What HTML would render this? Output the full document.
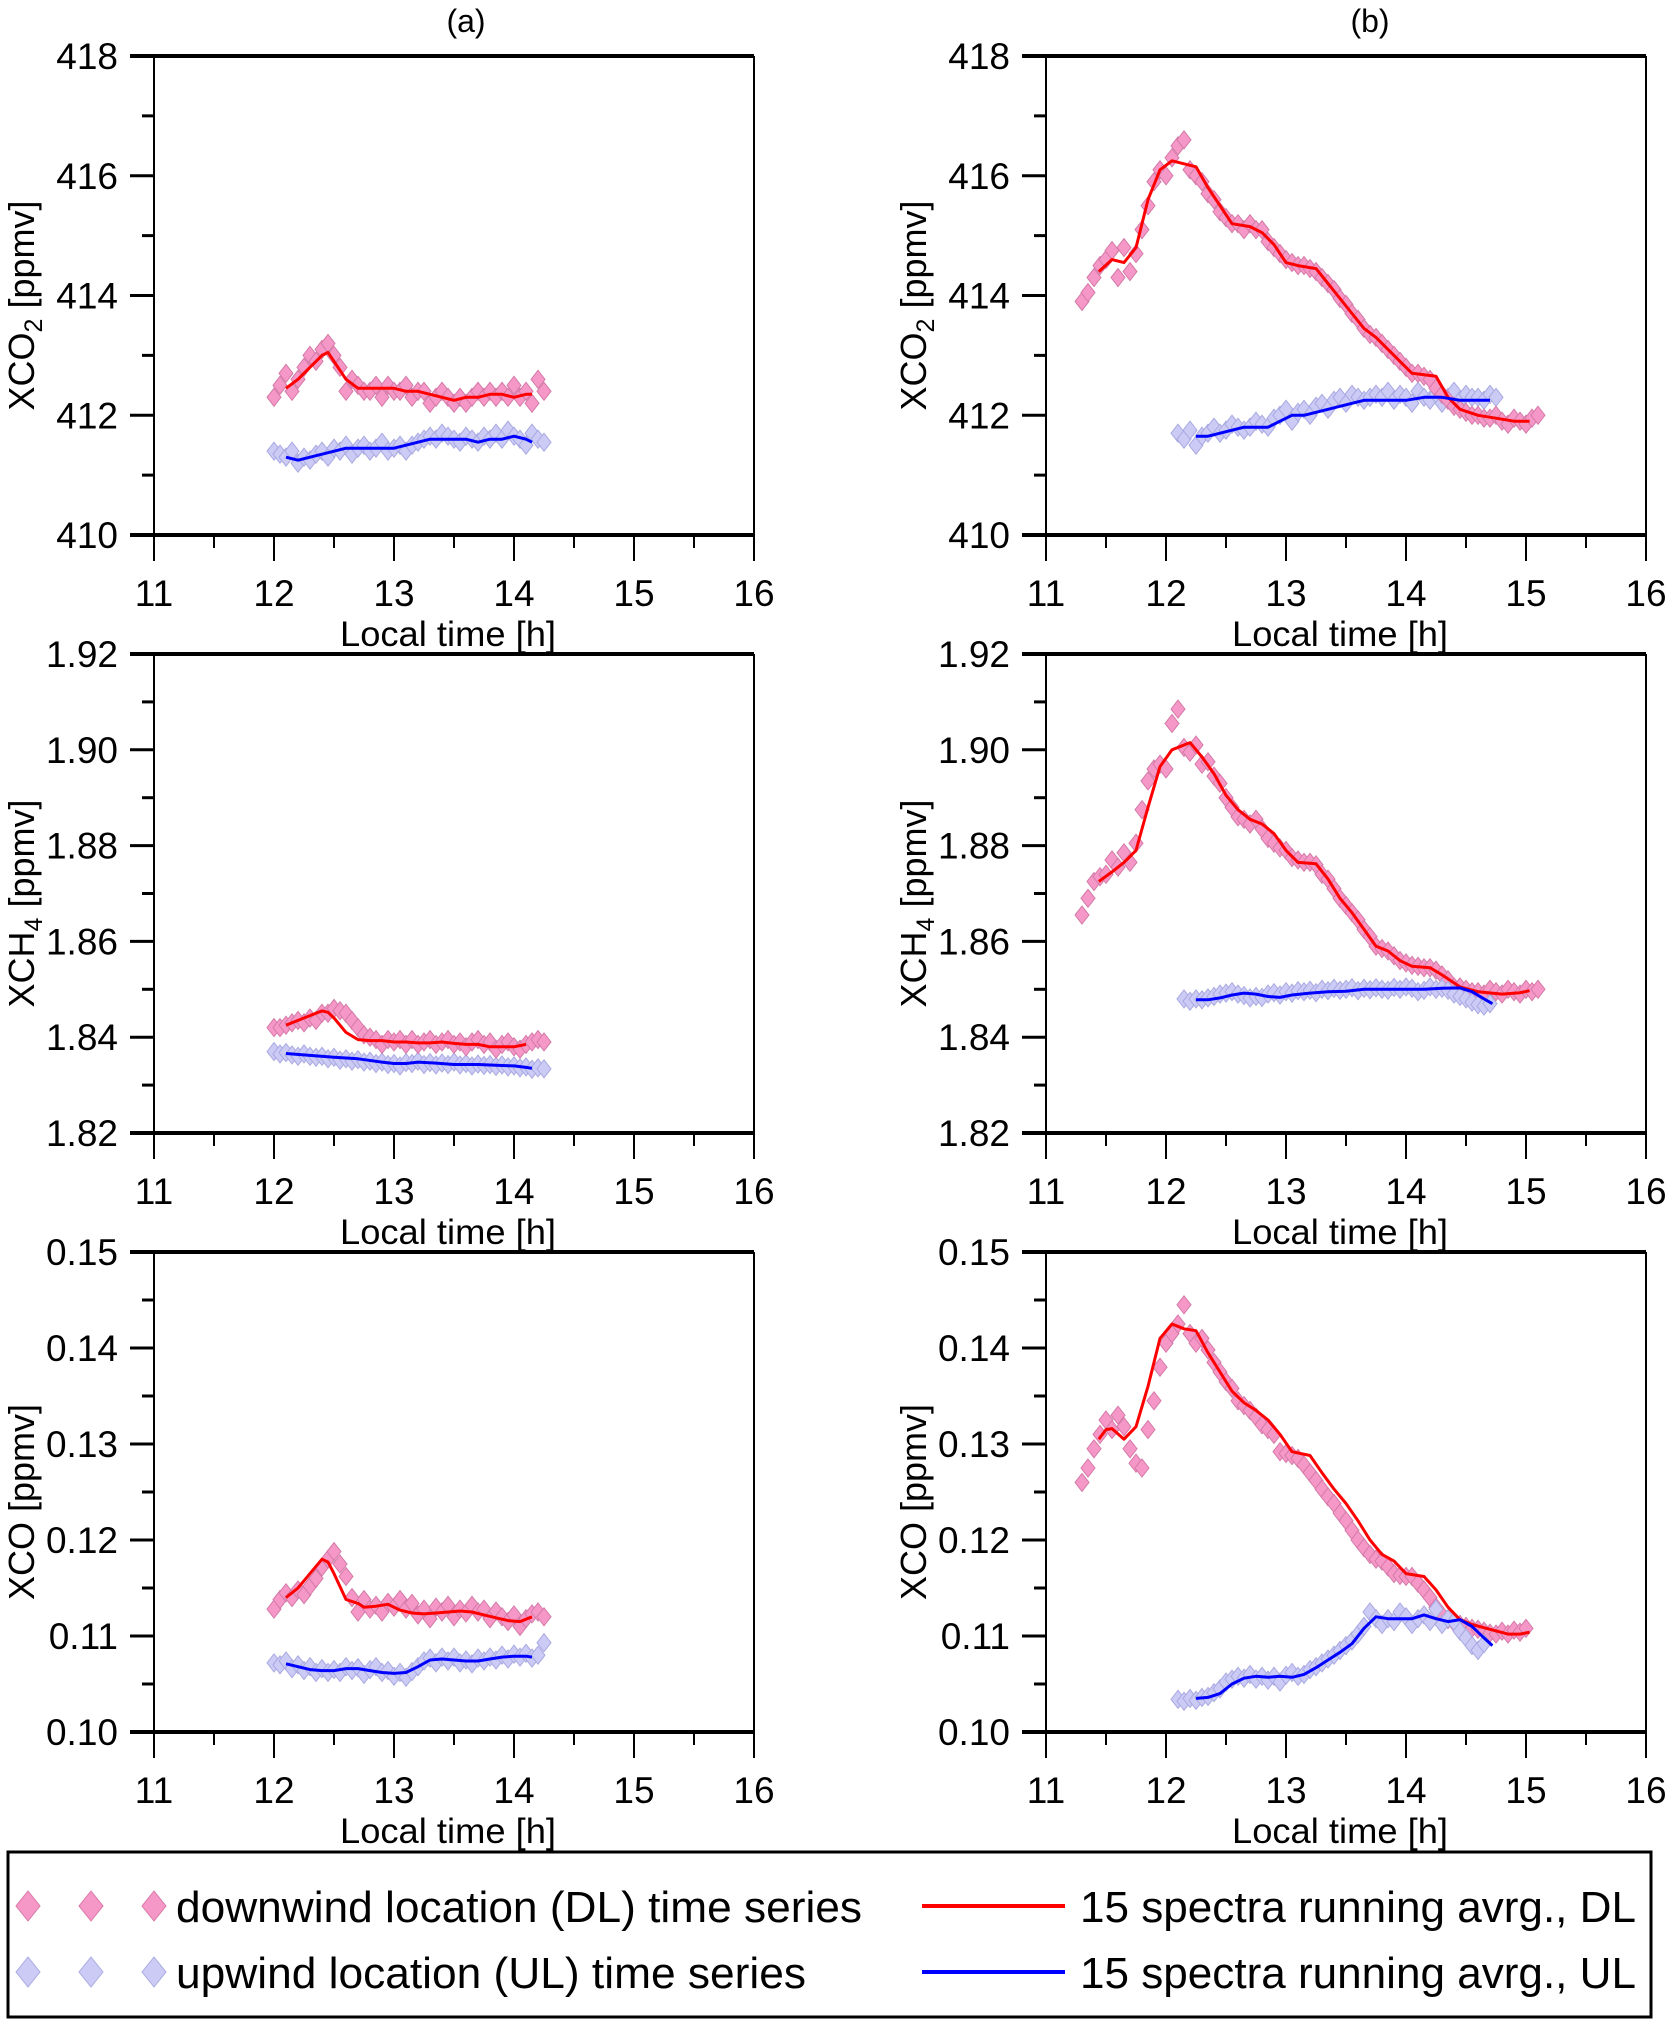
<!DOCTYPE html>
<html><head><meta charset="utf-8"><style>
body{margin:0;background:#fff}
svg{display:block;font-family:"Liberation Sans",Arial,sans-serif}
</style></head><body>
<svg id="fig" width="1666" height="2020" viewBox="0 0 1666 2020" xmlns="http://www.w3.org/2000/svg">
<text x="466" y="32" font-size="32" text-anchor="middle">(a)</text>
<text x="1370" y="32" font-size="32" text-anchor="middle">(b)</text>
<g id="plots"></g>
<g>
<rect x="8" y="1852" width="1643" height="165" fill="#fff" stroke="#000" stroke-width="3"/>
<g>
<polygon points="28,1891 40,1906 28,1921 16,1906" fill="#f598c8" stroke="#d878a8"/>
<polygon points="91,1891 103,1906 91,1921 79,1906" fill="#f598c8" stroke="#d878a8"/>
<polygon points="154,1891 166,1906 154,1921 142,1906" fill="#f598c8" stroke="#d878a8"/>
<text x="176" y="1922" font-size="44" textLength="686" lengthAdjust="spacingAndGlyphs">downwind location (DL) time series</text>
</g>
<g>
<polygon points="28,1957 40,1972 28,1987 16,1972" fill="#cbcbf5" stroke="#aaaae0"/>
<polygon points="91,1957 103,1972 91,1987 79,1972" fill="#cbcbf5" stroke="#aaaae0"/>
<polygon points="154,1957 166,1972 154,1987 142,1972" fill="#cbcbf5" stroke="#aaaae0"/>
<text x="176" y="1988" font-size="44" textLength="630" lengthAdjust="spacingAndGlyphs">upwind location (UL) time series</text>
</g>
<g>
<line x1="922" y1="1906" x2="1065" y2="1906" stroke="#ff0000" stroke-width="4"/>
<text x="1080" y="1922" font-size="44" textLength="556" lengthAdjust="spacingAndGlyphs">15 spectra running avrg., DL</text>
</g>
<g>
<line x1="922" y1="1972" x2="1065" y2="1972" stroke="#0000ff" stroke-width="4"/>
<text x="1080" y="1988" font-size="44" textLength="556" lengthAdjust="spacingAndGlyphs">15 spectra running avrg., UL</text>
</g>
</g>
</svg>
<script>
// ---------- data ----------
const xTicks = [11,12,13,14,15,16];
const co2Ticks = [410,412,414,416,418];
const ch4Ticks = [1.82,1.84,1.86,1.88,1.90,1.92];
const coTicks = [0.10,0.11,0.12,0.13,0.14,0.15];
const co2TickLabels = ["410","412","414","416","418"];
const ch4TickLabels = ["1.82","1.84","1.86","1.88","1.90","1.92"];
const coTickLabels = ["0.10","0.11","0.12","0.13","0.14","0.15"];

// scatter: start time + 0.05 h spacing
const aCO2DLStart = 12.0;
const aCO2DL = [412.3,412.5,412.7,412.4,412.6,412.8,413.0,412.9,413.1,413.2,413.0,412.8,412.4,412.6,412.5,412.4,412.4,412.5,412.3,412.5,412.4,412.4,412.5,412.3,412.4,412.4,412.2,412.3,412.4,412.3,412.2,412.3,412.2,412.3,412.4,412.3,412.4,412.3,412.4,412.3,412.5,412.3,412.4,412.2,412.6,412.4];
const aCO2ULStart = 12.0;
const aCO2UL = [411.4,411.35,411.3,411.4,411.2,411.3,411.25,411.35,411.4,411.3,411.45,411.4,411.5,411.35,411.45,411.5,411.4,411.45,411.55,411.4,411.45,411.5,411.4,411.5,411.55,411.6,411.65,411.6,411.7,411.65,411.6,411.55,411.65,411.6,411.55,411.65,411.6,411.7,411.6,411.75,411.65,411.6,411.5,411.7,411.6,411.55];
const aCO2DLAvgT = [12.1,12.2,12.3,12.4,12.45,12.5,12.6,12.7,12.8,12.9,13.0,13.1,13.2,13.3,13.4,13.5,13.6,13.7,13.8,13.9,14.0,14.1,14.15];
const aCO2DLAvg = [412.45,412.6,412.8,413.0,413.05,412.9,412.6,412.45,412.45,412.45,412.45,412.4,412.4,412.35,412.3,412.25,412.3,412.3,412.35,412.35,412.3,412.35,412.35];
const aCO2ULAvgT = [12.1,12.2,12.3,12.4,12.5,12.6,12.7,12.8,12.9,13.0,13.1,13.2,13.3,13.4,13.5,13.6,13.7,13.8,13.9,14.0,14.1,14.15];
const aCO2ULAvg = [411.3,411.25,411.3,411.35,411.4,411.45,411.45,411.45,411.45,411.45,411.5,411.55,411.6,411.6,411.6,411.6,411.55,411.6,411.6,411.65,411.6,411.55];

const bCO2DLStart = 11.3;
const bCO2DL = [413.9,414.05,414.3,414.5,414.6,414.75,414.3,414.8,414.4,414.7,415.1,415.5,415.9,416.1,416.0,416.3,416.5,416.6,416.1,416.0,415.9,415.7,415.6,415.4,415.3,415.2,415.2,415.1,415.2,415.1,415.1,414.9,414.8,414.7,414.6,414.55,414.5,414.5,414.45,414.4,414.3,414.2,414.1,413.95,413.85,413.7,413.6,413.45,413.35,413.3,413.2,413.1,413.0,412.9,412.8,412.7,412.7,412.65,412.6,412.45,412.35,412.25,412.15,412.1,412.05,412.0,412.0,411.95,411.95,412.0,411.9,411.85,411.95,411.9,411.85,411.95,412.0];
const bCO2ULStart = 12.1;
const bCO2UL = [411.7,411.6,411.75,411.5,411.65,411.7,411.8,411.7,411.75,411.85,411.8,411.75,411.8,411.9,411.85,411.8,411.95,412.0,412.1,411.9,412.05,412.1,412.0,412.15,412.2,412.1,412.25,412.3,412.2,412.35,412.3,412.25,412.3,412.35,412.3,412.4,412.25,412.35,412.3,412.2,412.4,412.3,412.25,412.35,412.2,412.3,412.4,412.25,412.35,412.3,412.3,412.25,412.35,412.3];
const bCO2DLAvgT = [11.44,11.55,11.65,11.75,11.85,11.95,12.05,12.15,12.25,12.35,12.45,12.55,12.7,12.8,12.9,13.0,13.1,13.25,13.35,13.45,13.55,13.65,13.75,13.85,13.95,14.05,14.25,14.35,14.45,14.6,14.75,14.9,15.03];
const bCO2DLAvg = [414.4,414.6,414.55,414.8,415.6,416.1,416.25,416.2,416.15,415.8,415.5,415.2,415.15,415.05,414.85,414.55,414.5,414.45,414.2,413.95,413.7,413.45,413.3,413.1,412.9,412.7,412.65,412.3,412.1,412.0,411.95,411.9,411.9];
const bCO2ULAvgT = [12.25,12.35,12.45,12.55,12.65,12.75,12.85,12.95,13.05,13.15,13.25,13.35,13.45,13.55,13.65,13.75,13.85,14.0,14.15,14.3,14.45,14.6,14.7];
const bCO2ULAvg = [411.65,411.65,411.7,411.75,411.8,411.8,411.8,411.9,412.0,412.0,412.05,412.1,412.15,412.2,412.25,412.25,412.25,412.25,412.3,412.3,412.25,412.25,412.25];

const aCH4DLStart = 12.0;
const aCH4DL = [1.842,1.842,1.8425,1.843,1.8435,1.843,1.844,1.8435,1.845,1.845,1.846,1.8455,1.845,1.8435,1.842,1.8405,1.84,1.8395,1.8385,1.8395,1.839,1.8395,1.8385,1.8395,1.8385,1.839,1.8395,1.8385,1.839,1.8395,1.8385,1.839,1.838,1.839,1.8395,1.8385,1.839,1.8375,1.8385,1.839,1.838,1.8375,1.8385,1.839,1.8395,1.839];
const aCH4ULStart = 12.0;
const aCH4UL = [1.837,1.8365,1.8368,1.8363,1.836,1.8365,1.836,1.8358,1.836,1.8355,1.8358,1.8352,1.8355,1.835,1.8353,1.8348,1.835,1.8345,1.8348,1.8343,1.8345,1.834,1.8347,1.8345,1.835,1.8343,1.8347,1.8342,1.8346,1.8343,1.8348,1.8342,1.8345,1.834,1.8344,1.8341,1.8343,1.8339,1.8342,1.8338,1.834,1.8336,1.8338,1.8333,1.8336,1.8334];
const aCH4DLAvgT = [12.1,12.2,12.3,12.4,12.45,12.5,12.6,12.7,12.8,12.9,13.0,13.1,13.2,13.3,13.4,13.5,13.6,13.7,13.8,13.9,14.0,14.1];
const aCH4DLAvg = [1.8425,1.8435,1.8445,1.8455,1.8452,1.844,1.841,1.8395,1.8393,1.8393,1.839,1.839,1.8388,1.8388,1.839,1.8387,1.8385,1.8385,1.838,1.838,1.838,1.8385];
const aCH4ULAvgT = [12.1,12.3,12.5,12.7,12.9,13.0,13.1,13.2,13.35,13.5,13.7,13.9,14.0,14.1,14.15];
const aCH4ULAvg = [1.8366,1.8362,1.8358,1.8355,1.8348,1.8345,1.8345,1.8348,1.8346,1.8343,1.8343,1.8341,1.834,1.8337,1.8335];

const bCH4DLStart = 11.3;
const bCH4DL = [1.8655,1.869,1.8725,1.8735,1.874,1.877,1.8755,1.8785,1.8765,1.8805,1.8875,1.8935,1.896,1.897,1.896,1.9055,1.9085,1.9005,1.8995,1.901,1.897,1.8975,1.8945,1.893,1.89,1.888,1.886,1.8855,1.8845,1.8855,1.8835,1.8815,1.8805,1.8795,1.879,1.8775,1.877,1.8765,1.8765,1.876,1.874,1.873,1.871,1.869,1.8675,1.866,1.8645,1.8625,1.861,1.859,1.8585,1.858,1.857,1.856,1.8555,1.855,1.8548,1.8545,1.8545,1.854,1.853,1.852,1.8505,1.8505,1.85,1.8495,1.8495,1.849,1.85,1.8495,1.849,1.85,1.8495,1.849,1.85,1.8495,1.85];
const bCH4ULStart = 12.15;
const bCH4UL = [1.848,1.8475,1.848,1.8478,1.8482,1.8485,1.849,1.8492,1.8495,1.849,1.8487,1.8482,1.8485,1.8483,1.849,1.8493,1.8488,1.8495,1.8492,1.8497,1.8495,1.8498,1.8493,1.85,1.8497,1.8502,1.8498,1.85,1.8503,1.8497,1.8502,1.8499,1.8503,1.85,1.8498,1.8504,1.85,1.8505,1.8502,1.8495,1.8498,1.8505,1.85,1.8502,1.8498,1.849,1.8485,1.848,1.8473,1.8468,1.8465,1.847];
const bCH4DLAvgT = [11.44,11.55,11.65,11.75,11.85,11.95,12.05,12.15,12.2,12.3,12.4,12.5,12.6,12.7,12.8,12.9,13.0,13.1,13.25,13.35,13.45,13.55,13.65,13.75,13.85,13.95,14.05,14.2,14.3,14.45,14.6,14.8,14.95,15.03];
const bCH4DLAvg = [1.8725,1.8745,1.8765,1.879,1.888,1.8965,1.9,1.901,1.9015,1.8985,1.895,1.8905,1.8875,1.8855,1.8845,1.8825,1.879,1.8765,1.8762,1.873,1.869,1.866,1.8625,1.859,1.858,1.856,1.8548,1.8545,1.853,1.8505,1.8495,1.849,1.8493,1.8497];
const bCH4ULAvgT = [12.25,12.35,12.45,12.55,12.65,12.75,12.85,12.95,13.05,13.2,13.35,13.5,13.65,13.8,14.0,14.15,14.3,14.45,14.55,14.65,14.72];
const bCH4ULAvg = [1.8478,1.8478,1.8482,1.8488,1.8492,1.849,1.8485,1.8483,1.8488,1.8492,1.8495,1.8496,1.85,1.85,1.85,1.85,1.8502,1.8503,1.8495,1.848,1.847];

const aCODLStart = 12.0;
const aCODL = [0.1128,0.1138,0.1145,0.114,0.1148,0.1143,0.1152,0.116,0.1172,0.118,0.1188,0.1175,0.1162,0.114,0.1125,0.1138,0.1128,0.1132,0.1125,0.1135,0.113,0.1138,0.1128,0.1134,0.1122,0.1128,0.1118,0.113,0.1125,0.1132,0.112,0.1128,0.1124,0.1132,0.1125,0.1128,0.1118,0.1126,0.112,0.1115,0.1122,0.111,0.1118,0.1123,0.1125,0.112];
const aCOULStart = 12.0;
const aCOUL = [0.1072,0.107,0.1074,0.1066,0.107,0.1064,0.1068,0.1062,0.1066,0.1062,0.1065,0.1062,0.1068,0.1064,0.1067,0.106,0.1065,0.1068,0.1062,0.1064,0.1058,0.1062,0.1057,0.1063,0.1068,0.1074,0.1077,0.1072,0.1078,0.1074,0.1078,0.1072,0.1075,0.1071,0.1077,0.1074,0.1078,0.1075,0.108,0.1076,0.1081,0.1078,0.1082,0.1077,0.108,0.1093];
const aCODLAvgT = [12.1,12.2,12.3,12.4,12.45,12.5,12.6,12.7,12.75,12.85,12.95,13.05,13.15,13.25,13.35,13.45,13.55,13.65,13.75,13.85,13.95,14.05,14.15];
const aCODLAvg = [0.114,0.115,0.1165,0.118,0.1177,0.1165,0.1138,0.1134,0.113,0.1131,0.1133,0.1127,0.1124,0.1123,0.1124,0.1125,0.1126,0.1125,0.1122,0.1119,0.1116,0.1115,0.112];
const aCOULAvgT = [12.1,12.2,12.3,12.4,12.5,12.6,12.7,12.8,12.9,13.0,13.1,13.2,13.3,13.4,13.5,13.6,13.7,13.8,13.9,14.0,14.1,14.15];
const aCOULAvg = [0.1071,0.1068,0.1065,0.1064,0.1064,0.1066,0.1066,0.1064,0.1062,0.1061,0.1062,0.1068,0.1075,0.1076,0.1075,0.1074,0.1074,0.1076,0.1078,0.1079,0.1079,0.1078];

const bCODLStart = 11.3;
const bCODL = [0.126,0.1275,0.1295,0.131,0.1325,0.1315,0.133,0.1318,0.1295,0.128,0.1275,0.1315,0.1345,0.138,0.1405,0.1415,0.1425,0.1445,0.1415,0.1405,0.141,0.1398,0.1385,0.1375,0.1365,0.1358,0.1345,0.134,0.1335,0.1328,0.132,0.1315,0.131,0.1292,0.129,0.1288,0.1285,0.1278,0.127,0.1262,0.1253,0.1245,0.1238,0.1228,0.122,0.121,0.12,0.1192,0.1185,0.118,0.1178,0.1172,0.1165,0.1163,0.1162,0.1162,0.1155,0.1148,0.114,0.113,0.1122,0.1117,0.1114,0.1112,0.111,0.1108,0.1107,0.1105,0.1103,0.1102,0.1105,0.1102,0.1106,0.1104,0.1108];
const bCOULStart = 12.1;
const bCOUL = [0.1034,0.1032,0.1035,0.1033,0.1036,0.1037,0.1041,0.1045,0.1052,0.1055,0.1058,0.1056,0.106,0.1055,0.1058,0.1054,0.1058,0.1052,0.1059,0.1062,0.1058,0.106,0.1065,0.1068,0.1072,0.1076,0.108,0.1085,0.109,0.1095,0.1102,0.111,0.1125,0.1118,0.1112,0.1118,0.1115,0.1125,0.112,0.1112,0.1118,0.1122,0.1115,0.1128,0.1112,0.1118,0.1115,0.1105,0.1098,0.109,0.1085,0.1092];
const bCODLAvgT = [11.44,11.5,11.55,11.65,11.75,11.85,11.95,12.05,12.15,12.25,12.35,12.45,12.55,12.65,12.75,12.85,12.95,13.05,13.2,13.3,13.4,13.5,13.6,13.7,13.8,13.9,14.0,14.15,14.25,14.35,14.45,14.55,14.7,14.85,14.95,15.03];
const bCODLAvg = [0.1305,0.1315,0.1316,0.1305,0.1318,0.136,0.141,0.1425,0.142,0.1418,0.1395,0.1375,0.1355,0.1343,0.1335,0.1325,0.131,0.1292,0.1288,0.127,0.1253,0.1238,0.122,0.12,0.1185,0.1178,0.1165,0.1162,0.1148,0.113,0.1117,0.1112,0.1107,0.1102,0.1102,0.1104];
const bCOULAvgT = [12.25,12.35,12.45,12.55,12.65,12.75,12.85,12.95,13.05,13.15,13.25,13.35,13.45,13.55,13.65,13.75,13.85,13.95,14.05,14.15,14.25,14.35,14.45,14.55,14.65,14.72];
const bCOULAvg = [0.1035,0.1036,0.104,0.105,0.1056,0.1058,0.1057,0.1058,0.1057,0.106,0.1067,0.1075,0.1083,0.1092,0.1108,0.112,0.1118,0.1118,0.1118,0.1122,0.1118,0.1115,0.1117,0.111,0.1098,0.109];

// ---------- drawing ----------
const NS = "http://www.w3.org/2000/svg";
const root = document.getElementById('plots');
const cols = [{l:154,r:754},{l:1046,r:1646}];
const rows = [{t:56,b:535},{t:654,b:1133},{t:1252,b:1732}];
const XMIN = 11, XMAX = 16;

function mk(tag, attrs, parent){
  const e = document.createElementNS(NS, tag);
  for (const k in attrs) e.setAttribute(k, attrs[k]);
  parent.appendChild(e);
  return e;
}
function diamond(cx, cy, w, h){
  return `${cx},${cy-h} ${cx+w},${cy} ${cx},${cy+h} ${cx-w},${cy}`;
}

function panel(id, col, row, ticks, tickLabels, ylabelMain, ylabelSub, series){
  const c = cols[col], r = rows[row];
  const ymin = ticks[0], ymax = ticks[ticks.length-1];
  const xs = t => c.l + (t - XMIN) / (XMAX - XMIN) * (c.r - c.l);
  const ys = v => r.b - (v - ymin) / (ymax - ymin) * (r.b - r.t);
  const g = mk('g', {}, root);
  
  

  series.scatter.forEach(s => {
    const sg = mk('g', {fill: s.fill, stroke: s.stroke, 'stroke-width': 1}, g);
    
    
    s.vals.forEach((v, i) => {
      const t = s.start + 0.05 * i;
      const p = mk('polygon', {points: diamond(xs(t), ys(v), 7, 9)}, sg);
      
      
    });
  });
  series.lines.forEach(s => {
    const d = s.t.map((t, i) => (i ? 'L' : 'M') + xs(t).toFixed(1) + ',' + ys(s.v[i]).toFixed(1)).join(' ');
    const p = mk('path', {d, fill: 'none', stroke: s.color, 'stroke-width': 3, 'stroke-linejoin': 'round'}, g);
    
    
  });

  const ax = mk('g', {stroke: '#000'}, g);
  
  
  mk('line', {x1: c.l - 24, y1: r.t, x2: c.r, y2: r.t, 'stroke-width': 4}, ax);
  mk('line', {x1: c.l - 24, y1: r.b, x2: c.r, y2: r.b, 'stroke-width': 4}, ax);
  mk('line', {x1: c.l, y1: r.t, x2: c.l, y2: r.b + 26, 'stroke-width': 2}, ax);
  mk('line', {x1: c.r, y1: r.t, x2: c.r, y2: r.b + 26, 'stroke-width': 2}, ax);

  const yg = mk('g', {}, g);
  
  
  ticks.forEach((v, i) => {
    const y = ys(v);
    mk('line', {x1: c.l - 24, y1: y, x2: c.l, y2: y, stroke: '#000', 'stroke-width': 3}, yg);
    if (i < ticks.length - 1) {
      const ym = ys((v + ticks[i+1]) / 2);
      mk('line', {x1: c.l - 12, y1: ym, x2: c.l, y2: ym, stroke: '#000', 'stroke-width': 3}, yg);
    }
    const tx = mk('text', {x: c.l - 36, y: y + 13, 'font-size': 37, 'text-anchor': 'end'}, yg);
    tx.textContent = tickLabels[i];
    
    
  });
  const xg = mk('g', {}, g);
  
  
  xTicks.forEach((t, i) => {
    const x = xs(t);
    mk('line', {x1: x, y1: r.b, x2: x, y2: r.b + 26, stroke: '#000', 'stroke-width': 2}, xg);
    if (i < xTicks.length - 1) {
      const xm = xs(t + 0.5);
      mk('line', {x1: xm, y1: r.b, x2: xm, y2: r.b + 13, stroke: '#000', 'stroke-width': 2}, xg);
    }
    const tx = mk('text', {x: x, y: r.b + 71, 'font-size': 37, 'text-anchor': 'middle'}, xg);
    tx.textContent = String(t);
    
    
  });
  const xt = mk('text', {x: (c.l + c.r) / 2 - 6, y: r.b + 111, 'font-size': 35, 'text-anchor': 'middle', textLength: 216, lengthAdjust: 'spacingAndGlyphs'}, xg);
  xt.textContent = 'Local time [h]';
  
  

  const yc = (r.t + r.b) / 2 + 10;
  const yt = mk('text', {x: 0, y: 0, 'font-size': 36, 'text-anchor': 'middle', transform: `translate(${c.l - 120},${yc}) rotate(-90)`}, g);
  
  
  const t1 = mk('tspan', {}, yt); t1.textContent = ylabelMain;
  if (ylabelSub) {
    const t2 = mk('tspan', {'font-size': 25, dy: 8}, yt); t2.textContent = ylabelSub;
    const t3 = mk('tspan', {dy: -8}, yt); t3.textContent = ' [ppmv]';
  } else {
    const t3 = mk('tspan', {}, yt); t3.textContent = ' [ppmv]';
  }
}

const PINK = '#f598c8', PINKS = '#d47aa8', LAV = '#cbcbf5', LAVS = '#a9a9e2';
function S(name, start, vals, fill, stroke){ return {name, start, vals, fill, stroke}; }
function L(name, t, v, color){ return {name, t, v, color}; }

panel('panel-a-xco2', 0, 0, co2Ticks, co2TickLabels, 'XCO', '2', {
  scatter: [S('ul-scatter', aCO2ULStart, aCO2UL, LAV, LAVS), S('dl-scatter', aCO2DLStart, aCO2DL, PINK, PINKS)],
  lines: [L('dl-running-avg', aCO2DLAvgT, aCO2DLAvg, '#ff0000'), L('ul-running-avg', aCO2ULAvgT, aCO2ULAvg, '#0000ff')]});
panel('panel-b-xco2', 1, 0, co2Ticks, co2TickLabels, 'XCO', '2', {
  scatter: [S('ul-scatter', bCO2ULStart, bCO2UL, LAV, LAVS), S('dl-scatter', bCO2DLStart, bCO2DL, PINK, PINKS)],
  lines: [L('dl-running-avg', bCO2DLAvgT, bCO2DLAvg, '#ff0000'), L('ul-running-avg', bCO2ULAvgT, bCO2ULAvg, '#0000ff')]});
panel('panel-a-xch4', 0, 1, ch4Ticks, ch4TickLabels, 'XCH', '4', {
  scatter: [S('ul-scatter', aCH4ULStart, aCH4UL, LAV, LAVS), S('dl-scatter', aCH4DLStart, aCH4DL, PINK, PINKS)],
  lines: [L('dl-running-avg', aCH4DLAvgT, aCH4DLAvg, '#ff0000'), L('ul-running-avg', aCH4ULAvgT, aCH4ULAvg, '#0000ff')]});
panel('panel-b-xch4', 1, 1, ch4Ticks, ch4TickLabels, 'XCH', '4', {
  scatter: [S('dl-scatter', bCH4DLStart, bCH4DL, PINK, PINKS), S('ul-scatter', bCH4ULStart, bCH4UL, LAV, LAVS)],
  lines: [L('dl-running-avg', bCH4DLAvgT, bCH4DLAvg, '#ff0000'), L('ul-running-avg', bCH4ULAvgT, bCH4ULAvg, '#0000ff')]});
panel('panel-a-xco', 0, 2, coTicks, coTickLabels, 'XCO', '', {
  scatter: [S('ul-scatter', aCOULStart, aCOUL, LAV, LAVS), S('dl-scatter', aCODLStart, aCODL, PINK, PINKS)],
  lines: [L('dl-running-avg', aCODLAvgT, aCODLAvg, '#ff0000'), L('ul-running-avg', aCOULAvgT, aCOULAvg, '#0000ff')]});
panel('panel-b-xco', 1, 2, coTicks, coTickLabels, 'XCO', '', {
  scatter: [S('dl-scatter', bCODLStart, bCODL, PINK, PINKS), S('ul-scatter', bCOULStart, bCOUL, LAV, LAVS)],
  lines: [L('dl-running-avg', bCODLAvgT, bCODLAvg, '#ff0000'), L('ul-running-avg', bCOULAvgT, bCOULAvg, '#0000ff')]});
</script>
</body></html>
